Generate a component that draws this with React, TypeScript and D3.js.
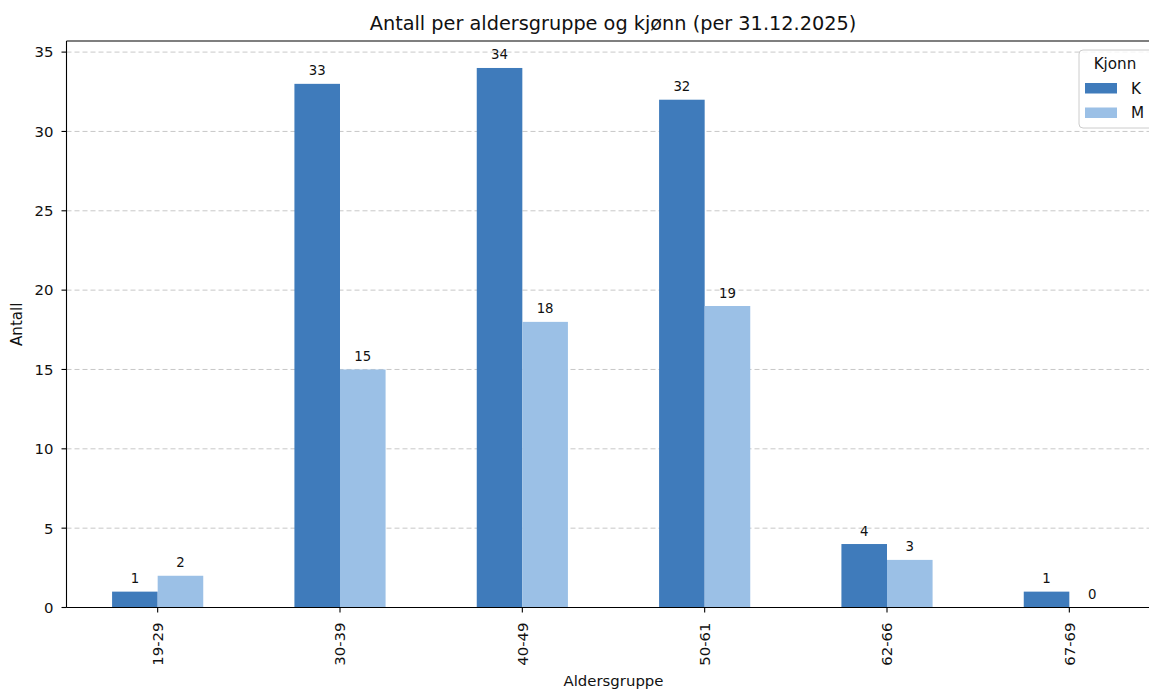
import React from "react";
import * as d3 from "d3";

const categories = ["19-29", "30-39", "40-49", "50-61", "62-66", "67-69"];
const seriesK = [1, 33, 34, 32, 4, 1];
const seriesM = [2, 15, 18, 19, 3, 0];
const yTicks = [0, 5, 10, 15, 20, 25, 30, 35];
const seriesNames = ["K", "M"];
const colors = ["#3f7bbb", "#9bc0e6"];

const W = 1149;
const H = 689;
const FONT = "'DejaVu Sans', sans-serif";

export default function App() {
  const left = 66.5;
  const right = 1160.5;
  const top = 41;
  const bottom = 607.5;
  const x = d3.scaleLinear().domain([-0.5, categories.length - 0.5]).range([left, right]);
  const y = d3.scaleLinear().domain([0, 35.7]).range([bottom, top]);
  const bw = 0.25;
  const series = [seriesK, seriesM];

  return (
    <svg width={W} height={H} style={{ position: "absolute", left: 0, top: 0, background: "#fff" }} fontFamily={FONT}>
      <rect x={0} y={0} width={W} height={H} fill="#fff" />
      {/* grid */}
      {yTicks.map((t) => (
        <line key={"g" + t} x1={left} x2={right} y1={y(t)} y2={y(t)} stroke="#b0b0b0" strokeOpacity={0.7} strokeWidth={1} strokeDasharray="5,3" />
      ))}
      {/* bars */}
      {series.map((s, si) =>
        s.map((v, i) => {
          const x0 = x(i - 0.25 + si * bw);
          const x1 = x(i - 0.25 + (si + 1) * bw);
          return (
            <g key={si + "-" + i}>
              <rect x={x0} y={y(v)} width={x1 - x0} height={y(0) - y(v)} fill={colors[si]} />
              <text x={(x0 + x1) / 2} y={y(v) - 8.5} textAnchor="middle" fontSize={13.3} fill="#111">{v}</text>
            </g>
          );
        })
      )}
      {/* spines */}
      <line x1={left} x2={left} y1={top} y2={bottom} stroke="#000" strokeWidth={1.1} />
      <line x1={left} x2={right} y1={bottom} y2={bottom} stroke="#000" strokeWidth={1.1} />
      <line x1={left} x2={right} y1={top} y2={top} stroke="#000" strokeWidth={1.1} />
      {/* y ticks */}
      {yTicks.map((t) => (
        <g key={"yt" + t}>
          <line x1={left - 5} x2={left} y1={y(t)} y2={y(t)} stroke="#000" strokeWidth={1.1} />
          <text x={left - 13} y={y(t)} dy="0.36em" textAnchor="end" fontSize={14.9} fill="#111">{t}</text>
        </g>
      ))}
      {/* x ticks */}
      {categories.map((c, i) => (
        <g key={"xt" + c}>
          <line x1={x(i)} x2={x(i)} y1={bottom} y2={bottom + 5} stroke="#000" strokeWidth={1.1} />
          <text transform={`translate(${x(i)},${bottom + 15}) rotate(-90)`} dy="0.36em" textAnchor="end" fontSize={14.9} fill="#111">{c}</text>
        </g>
      ))}
      {/* axis labels */}
      <text transform={`translate(22,${(top + bottom) / 2}) rotate(-90)`} textAnchor="middle" fontSize={15.1} fill="#111">Antall</text>
      <text x={613.5} y={686} textAnchor="middle" fontSize={14.9} fill="#111">Aldersgruppe</text>
      {/* title */}
      <text x={613} y={30} textAnchor="middle" fontSize={19.3} fill="#111">Antall per aldersgruppe og kjønn (per 31.12.2025)</text>
      {/* legend */}
      <g>
        <rect x={1079} y={50} width={90} height={78} rx={4} fill="#fff" fillOpacity={0.8} stroke="#cccccc" strokeWidth={1} />
        <text x={1115} y={68.5} textAnchor="middle" fontSize={15.2} fill="#111">Kjonn</text>
        {seriesNames.map((n, i) => (
          <g key={n}>
            <rect x={1085} y={83 + i * 24.5} width={32} height={10.5} fill={colors[i]} />
            <text x={1131} y={88.5 + i * 24.5} dy="0.36em" fontSize={15.2} fill="#111">{n}</text>
          </g>
        ))}
      </g>
    </svg>
  );
}
